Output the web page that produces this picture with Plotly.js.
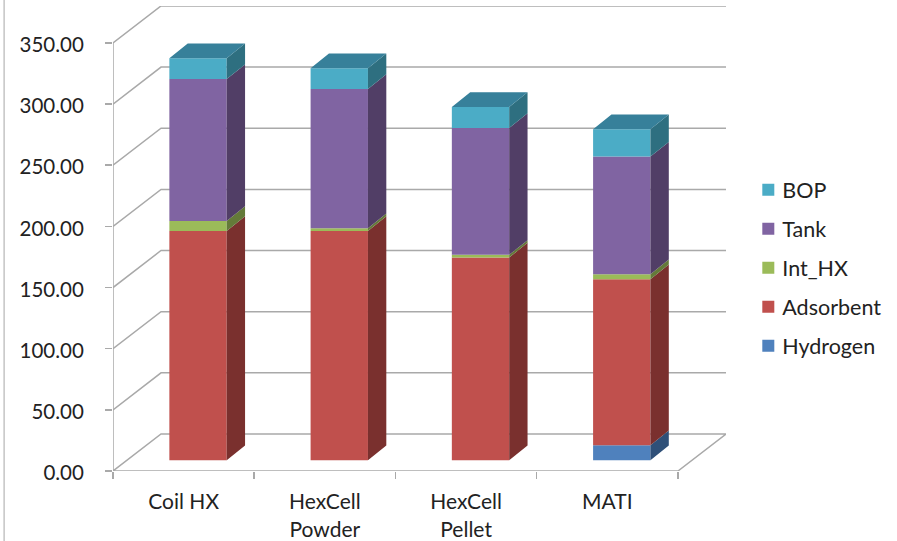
<!DOCTYPE html>
<html>
<head>
<meta charset="utf-8">
<script src="https://cdn.plot.ly/plotly-3.0.1.min.js"></script>
<style>html,body{margin:0;padding:0;background:#fff}</style>
</head>
<body>
<div id="chart"></div>
<script>
// Component cost per storage concept, stacked bottom to top
const categories = ["Coil HX", "HexCell<br>Powder", "HexCell<br>Pellet", "MATI"];
const hydrogen  = [0, 0, 0, 12.3];
const adsorbent = [187.5, 187.5, 165.8, 135.7];
const intHx     = [8.2, 2.2, 2.2, 4.1];
const tank      = [116, 113.9, 103.7, 96.2];
const bop       = [17, 17, 17.2, 22.4];

const seriesNames = ["Hydrogen", "Adsorbent", "Int_HX", "Tank", "BOP"];
const seriesValues = [hydrogen, adsorbent, intHx, tank, bop];
const frontColors = ["#4f81bd", "#c0504d", "#9bbb59", "#8064a2", "#4bacc6"];
const sideColors  = ["#2f5078", "#7a302e", "#647a39", "#513e66", "#2e6f80"];
const topColor = "#37809a";
const yTicks = [0, 50, 100, 150, 200, 250, 300, 350];

// Oblique projection: how far the floor and each column recede, in axis units
const FLOOR_DX = 0.34, FLOOR_DY = 30.26;
const BAR_DX = 0.13, BAR_DY = 12;
const BAR_SHIFT_X = 0.102, BAR_SHIFT_Y = 8.75;
const BAR_WIDTH = 0.406;
const N = categories.length;

const centers = categories.map((_, i) => i + 0.5 + BAR_SHIFT_X);
const traces = [];
const running = categories.map(() => BAR_SHIFT_Y);

seriesNames.forEach((name, s) => {
  const base = running.slice();
  const values = seriesValues[s];
  traces.push({
    type: "bar", name, x: centers, y: values, base, width: BAR_WIDTH,
    marker: {color: frontColors[s], line: {width: 0}},
    legendgroup: name, legendrank: 100 - s, hoverinfo: "y+name", cliponaxis: false
  });
  // Right-hand face of each column segment
  const sx = [], sy = [];
  values.forEach((v, i) => {
    const xr = centers[i] + BAR_WIDTH / 2, b = base[i], t = b + v;
    sx.push(xr, xr + BAR_DX, xr + BAR_DX, xr, xr, null);
    sy.push(b, b + BAR_DY, t + BAR_DY, t, b, null);
    running[i] = t;
  });
  traces.push({
    type: "scatter", mode: "none", x: sx, y: sy, fill: "toself",
    fillcolor: sideColors[s], showlegend: false, hoverinfo: "skip", cliponaxis: false
  });
});

// Top cap of each column
const capX = [], capY = [];
running.forEach((t, i) => {
  const xl = centers[i] - BAR_WIDTH / 2, xr = centers[i] + BAR_WIDTH / 2;
  capX.push(xl, xr, xr + BAR_DX, xl + BAR_DX, xl, null);
  capY.push(t, t, t + BAR_DY, t + BAR_DY, t, null);
});
traces.push({
  type: "scatter", mode: "none", x: capX, y: capY, fill: "toself",
  fillcolor: topColor, showlegend: false, hoverinfo: "skip", cliponaxis: false
});

// Wall gridlines, floor outline and the vertical axis sit behind the columns
const gridStyle = {color: "#a9a9a9", width: 1.5};
const shapes = [];
function polyline(points) {
  shapes.push({
    type: "path", layer: "below", xref: "x", yref: "y", line: gridStyle,
    path: points.map((p, k) => (k ? "L" : "M") + p[0] + "," + p[1]).join(" ")
  });
}
yTicks.forEach(v => {
  if (v === 0) return;
  polyline([[0, v], [FLOOR_DX, v + FLOOR_DY], [N + FLOOR_DX, v + FLOOR_DY]]);
});
polyline([[0, 350], [0, 0], [N, 0], [N + FLOOR_DX, FLOOR_DY], [FLOOR_DX, FLOOR_DY], [0, 0]]);
shapes.push({
  type: "line", layer: "below", xref: "paper", yref: "paper",
  x0: -0.1776, x1: -0.1776, y0: -0.152, y1: 1.013, line: {color: "#c4c4c4", width: 1.5}
});

const fontFamily = "Lato, sans-serif", textColor = "#222222";
const layout = {
  width: 897, height: 541, autosize: false,
  margin: {l: 113, r: 170.3, t: 6, b: 70, pad: 0},
  paper_bgcolor: "#fff", plot_bgcolor: "rgba(0,0,0,0)",
  barmode: "overlay", shapes,
  xaxis: {
    range: [0, N + FLOOR_DX], showgrid: false, zeroline: false, showline: false,
    tickmode: "array", tickvals: categories.map((_, i) => i + 0.5), ticktext: categories,
    ticks: "", tickfont: {family: fontFamily, size: 21, color: textColor}, ticklabelstandoff: 16,
    minor: {tickmode: "array", tickvals: [0, 1, 2, 3, 4], ticks: "outside", ticklen: 7,
            tickcolor: "#a9a9a9", tickwidth: 1.5, showgrid: false}
  },
  yaxis: {
    range: [0, 380.2], showgrid: false, zeroline: false, showline: false,
    tickmode: "array", tickvals: yTicks, tickformat: ".2f",
    ticks: "outside", ticklen: 7, tickcolor: "#a9a9a9", tickwidth: 1.5,
    tickfont: {family: fontFamily, size: 20.5, color: textColor},
    ticklabelstandoff: 17, ticklabelshift: 2
  },
  legend: {
    x: 1.0347, xanchor: "left", y: 0.6487, yanchor: "top",
    traceorder: "grouped", tracegroupgap: 8,
    font: {family: fontFamily, size: 21.5, color: textColor}, bgcolor: "rgba(0,0,0,0)", borderwidth: 0
  },
  showlegend: true
};

Plotly.newPlot("chart", traces, layout, {displayModeBar: false, staticPlot: true}).then(() => {
  // Tighten the gap between legend swatches and their labels
  document.querySelectorAll("#chart .legendtext").forEach(t => t.setAttribute("x", "34"));
  // Open up the leading of the two-line category labels
  document.querySelectorAll("#chart .xtick text tspan.line").forEach(t => {
    if (parseFloat(t.getAttribute("dy")) > 0) t.setAttribute("dy", "1.33em");
  });
});
</script>
</body>
</html>
